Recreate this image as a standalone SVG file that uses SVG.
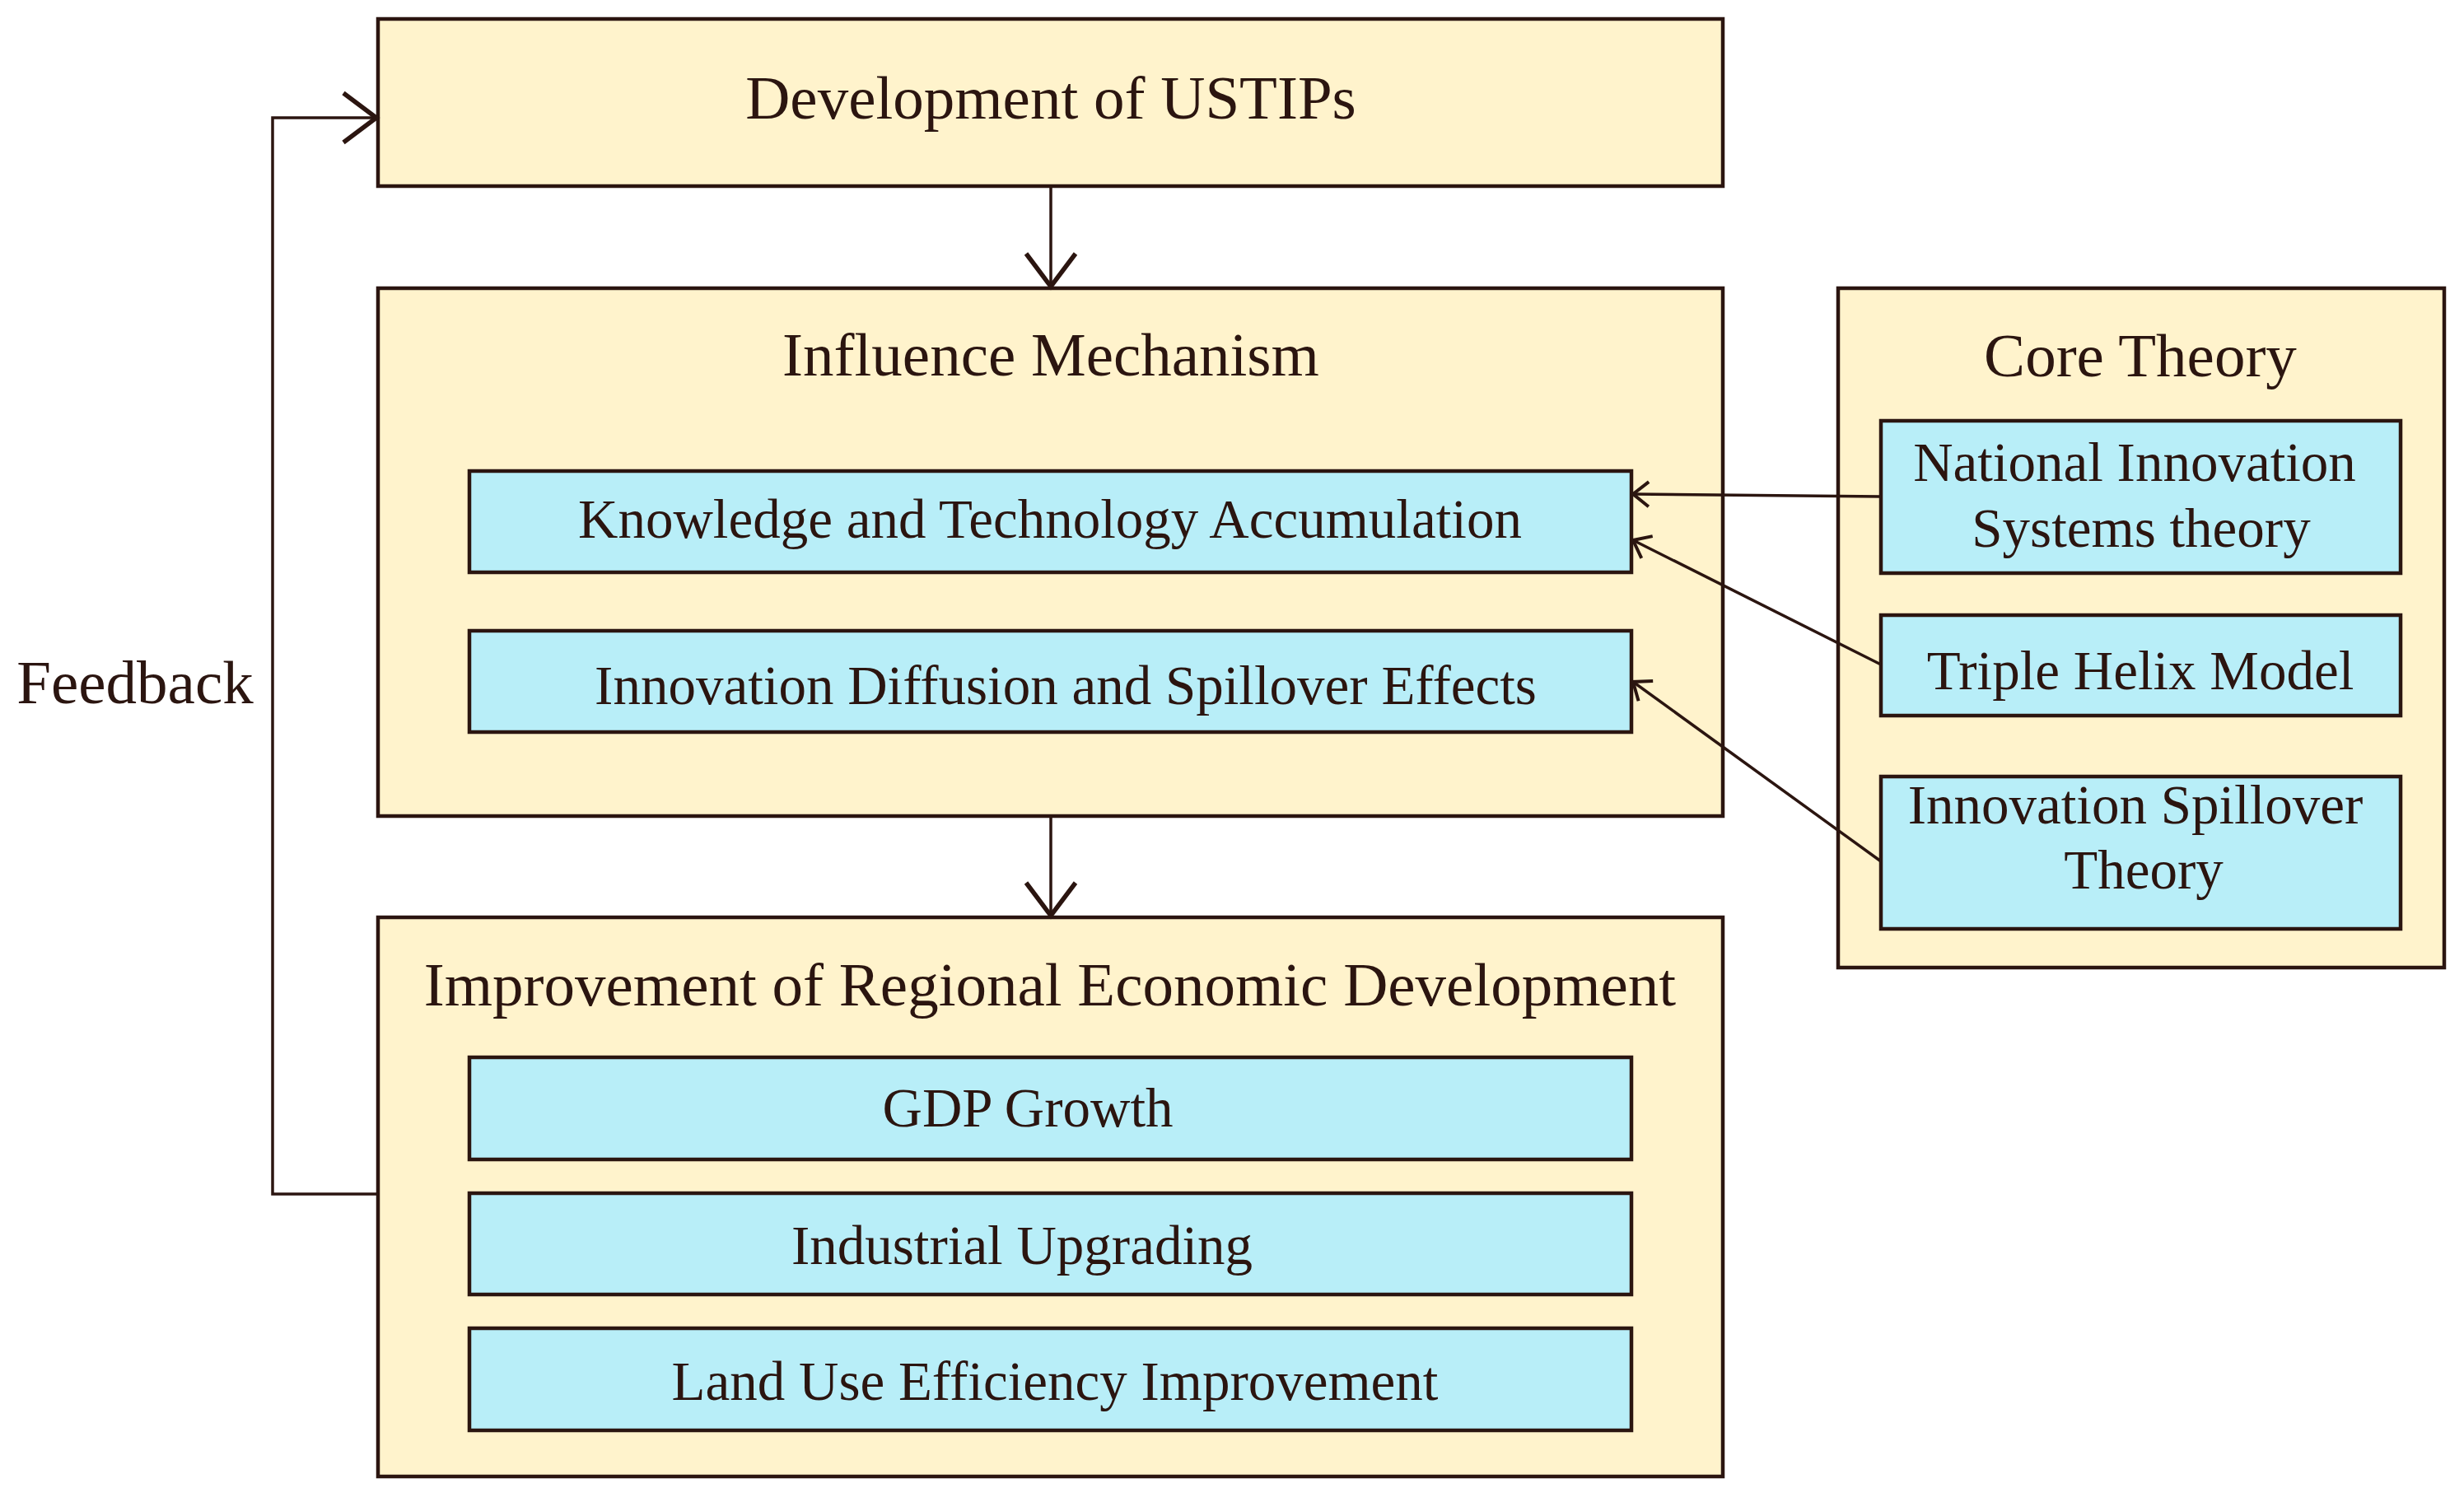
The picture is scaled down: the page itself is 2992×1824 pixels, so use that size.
<svg xmlns="http://www.w3.org/2000/svg" width="2992" height="1824" viewBox="0 0 2992 1824">
<style>
.outer{fill:#FFF3CC;stroke:#2B1510;stroke-width:4.5}
.inner{fill:#B8EEF8;stroke:#2B1510;stroke-width:4.5}
text{font-family:"Liberation Serif","Times New Roman",serif;fill:#2B1510;text-anchor:middle}
.t{font-size:75px}
.s{font-size:67px}
.ln{fill:none;stroke:#2B1510;stroke-width:3.5}
</style>
<defs>
<marker id="big" markerUnits="userSpaceOnUse" markerWidth="60" markerHeight="80" refX="45" refY="40" orient="auto">
<path d="M5,10 L45,40 L5,70" fill="none" stroke="#2B1510" stroke-width="5.5" stroke-linejoin="miter"/>
</marker>
<marker id="small" markerUnits="userSpaceOnUse" markerWidth="40" markerHeight="40" refX="25" refY="20" orient="auto">
<path d="M6,5 L25,20 L6,35" fill="none" stroke="#2B1510" stroke-width="4"/>
</marker>
</defs>
<rect width="2992" height="1824" fill="#FFFFFF"/>

<g id="node-development">
<rect class="outer" x="459" y="23" width="1633" height="203"/>
<text class="t" x="1276" y="144">Development of USTIPs</text>
</g>

<g id="node-influence">
<rect class="outer" x="459" y="350" width="1633" height="641"/>
<text class="t" x="1276" y="456">Influence Mechanism</text>
</g>
<g id="node-knowledge">
<rect class="inner" x="570" y="572" width="1411" height="123"/>
<text class="s" x="1275" y="653">Knowledge and Technology Accumulation</text>
</g>
<g id="node-diffusion">
<rect class="inner" x="570" y="766" width="1411" height="123"/>
<text class="s" x="1294" y="855">Innovation Diffusion and Spillover Effects</text>
</g>

<g id="node-improvement">
<rect class="outer" x="459" y="1114" width="1633" height="679"/>
<text class="t" x="1275" y="1221">Improvement of Regional Economic Development</text>
</g>
<g id="node-gdp">
<rect class="inner" x="570" y="1284" width="1411" height="124"/>
<text class="s" x="1248" y="1368">GDP Growth</text>
</g>
<g id="node-industrial">
<rect class="inner" x="570" y="1449" width="1411" height="123"/>
<text class="s" x="1241" y="1535">Industrial Upgrading</text>
</g>
<g id="node-land">
<rect class="inner" x="570" y="1613" width="1411" height="124"/>
<text class="s" x="1281" y="1700">Land Use Efficiency Improvement</text>
</g>

<g id="node-core">
<rect class="outer" x="2232" y="350" width="736" height="825"/>
<text class="t" x="2599" y="457">Core Theory</text>
</g>
<g id="node-nis">
<rect class="inner" x="2284" y="511" width="631" height="185"/>
<text class="s" x="2592" y="584">National Innovation</text>
<text class="s" x="2600" y="664">Systems theory</text>
</g>
<g id="node-triple">
<rect class="inner" x="2284" y="747" width="631" height="122"/>
<text class="s" x="2599" y="837">Triple Helix Model</text>
</g>
<g id="node-spill">
<rect class="inner" x="2284" y="943" width="631" height="185"/>
<text class="s" x="2593" y="1000">Innovation Spillover</text>
<text class="s" x="2603" y="1079">Theory</text>
</g>

<g id="label-feedback">
<text class="t" x="164" y="854">Feedback</text>
</g>

<g id="connectors">
<line class="ln" x1="1276" y1="226" x2="1276" y2="348" marker-end="url(#big)"/>
<line class="ln" x1="1276" y1="991" x2="1276" y2="1112" marker-end="url(#big)"/>
<polyline class="ln" points="459,1450 331,1450 331,143 457,143" marker-end="url(#big)"/>
<line class="ln" x1="2284" y1="603" x2="1983" y2="600" marker-end="url(#small)"/>
<line class="ln" x1="2284" y1="807" x2="1983" y2="656" marker-end="url(#small)"/>
<line class="ln" x1="2284" y1="1046" x2="1983" y2="828" marker-end="url(#small)"/>
</g>
</svg>
